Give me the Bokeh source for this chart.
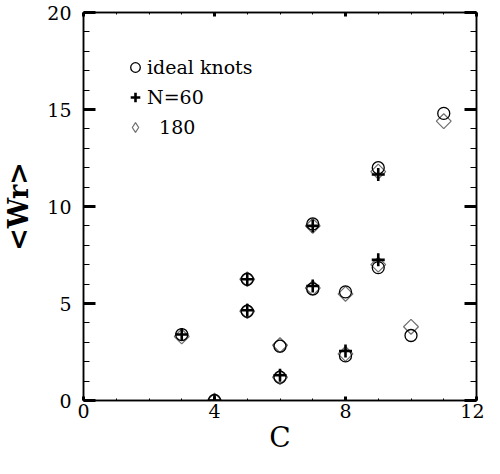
import math
from bokeh.plotting import figure
from bokeh.models import Range1d, FixedTicker, LinearAxis, Legend, LegendItem
from bokeh.embed import file_html
from bokeh.resources import INLINE

# Data
ideal_c = [3, 4, 5, 5, 6, 6, 7, 7, 8, 8, 9, 9, 10, 11]
ideal_wr = [3.4, 0.0, 6.25, 4.6, 2.8, 1.2, 9.1, 5.75, 5.6, 2.3, 12.0, 6.85, 3.35, 14.8]

n60_c = [3, 4, 5, 5, 6, 7, 7, 8, 9, 9]
n60_wr = [3.4, 0.0, 6.25, 4.65, 1.3, 9.0, 5.9, 2.55, 11.65, 7.25]

n180_c = [3, 4, 5, 5, 6, 6, 7, 7, 8, 8, 9, 9, 10, 11]
n180_wr = [3.3, 0.0, 6.25, 4.6, 2.85, 1.2, 9.0, 5.8, 5.5, 2.4, 11.8, 7.0, 3.8, 14.4]

x_major = [0, 4, 8, 12]
x_minor = list(range(0, 13))
y_major = [0, 5, 10, 15, 20]
y_minor = list(range(0, 21))

FONT = "DejaVu Serif"

p = figure(width=484, height=458, output_backend="svg", toolbar_location=None,
           x_range=Range1d(0, 12), y_range=Range1d(0, 20),
           min_border_left=81, min_border_right=8, min_border_top=12, min_border_bottom=58,
           x_axis_label="C", y_axis_label="<Wr>")
p.xgrid.visible = False
p.ygrid.visible = False
p.outline_line_color = "black"
p.outline_line_width = 1.5
p.background_fill_color = "white"
p.border_fill_color = "white"

def style_axis(ax, major, minor, maj_len, min_len, labels=True):
    ax.ticker = FixedTicker(ticks=major, minor_ticks=minor)
    ax.axis_line_color = "black"
    ax.axis_line_width = 1.5
    ax.major_tick_in = maj_len
    ax.major_tick_out = 0
    ax.minor_tick_in = min_len
    ax.minor_tick_out = 0
    ax.major_tick_line_width = 3
    ax.minor_tick_line_width = 1
    ax.major_tick_line_color = "black"
    ax.minor_tick_line_color = "black"
    ax.major_label_text_font = FONT
    ax.major_label_text_font_size = "19px"
    ax.major_label_text_color = "black"
    if not labels:
        ax.major_label_text_font_size = "0px"
        ax.major_label_text_alpha = 0

xa = p.xaxis[0]
style_axis(xa, x_major, x_minor, 4, 2)
xa.major_label_standoff = 3
xa.axis_label_text_font = FONT
xa.axis_label_text_font_size = "28px"
xa.axis_label_text_font_style = "normal"
xa.axis_label_text_color = "black"
xa.axis_label_standoff = 0

ya = p.yaxis[0]
style_axis(ya, y_major, y_minor, 12, 6)
ya.major_label_standoff = 12
ya.axis_label_text_font = FONT
ya.axis_label_text_font_size = "27px"
ya.axis_label_text_font_style = "bold"
ya.axis_label_text_color = "black"
ya.axis_label_standoff = 10

top = LinearAxis()
style_axis(top, x_major, x_minor, 4, 2, labels=False)
p.add_layout(top, "above")
right = LinearAxis()
style_axis(right, y_major, y_minor, 12, 6, labels=False)
p.add_layout(right, "right")

# legend-only diamond (hidden), data diamonds drawn as rotated squares
r180_leg = p.scatter(n180_c, n180_wr, marker="diamond", size=15,
                     fill_color=None, line_color="#6e6e6e", line_width=1.2, visible=False)
r180 = p.scatter(n180_c, n180_wr, marker="square", size=10.5, angle=math.pi / 4,
                 fill_color=None, line_color="#6e6e6e", line_width=1.2)
rideal = p.scatter(ideal_c, ideal_wr, marker="circle", size=12,
                   fill_color=None, line_color="black", line_width=1.3)
r60 = p.scatter(n60_c, n60_wr, marker="cross", size=13,
                line_color="black", line_width=2.6)

legend = Legend(items=[LegendItem(label="ideal knots", renderers=[rideal]),
                       LegendItem(label="N=60", renderers=[r60]),
                       LegendItem(label="\u00a0\u00a0180", renderers=[r180_leg])],
                location="top_left", margin=40, padding=0, spacing=0,
                glyph_width=24, glyph_height=30, label_standoff=0,
                label_text_font=FONT, label_text_font_size="19px",
                label_text_color="black", click_policy="none",
                border_line_color=None, background_fill_alpha=0)
p.add_layout(legend, "center")

open("out.html", "w").write(file_html(p, INLINE))
